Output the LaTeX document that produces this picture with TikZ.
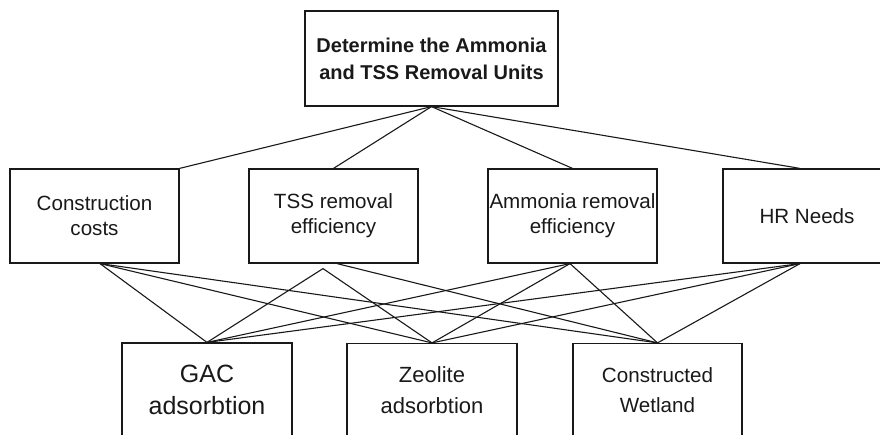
\documentclass[tikz,border=0pt]{standalone}
\usepackage{fontspec}
\setmainfont{Liberation Sans}
\begin{document}
\begin{tikzpicture}[x=1pt,y=-1pt,
  box/.style={draw=black!90,line width=1.2pt,rectangle,inner sep=0pt,align=center,text=black!90},
  midbox/.style={box,minimum width=169pt,minimum height=94pt,font=\fontsize{20.6}{25}\selectfont},
  lowbox/.style={box,minimum width=170pt,minimum height=94pt},
  link/.style={draw=black!90,line width=1.1pt}]
\useasboundingbox (0,0) rectangle (880,435);
\clip (0,0) rectangle (880,435);
% top
\node[box,minimum width=253pt,minimum height=95pt,font=\bfseries\fontsize{20}{27}\selectfont] (top) at (431.5,58.5) {Determine the Ammonia\\and TSS Removal Units};
% middle
\node[midbox] (cc) at (94.5,216) {Construction\\costs};
\node[midbox] (tss) at (333.5,216) {TSS removal\\efficiency};
\node[midbox] (amm) at (572.5,216) {Ammonia removal\\efficiency};
\node[midbox,minimum width=168pt] (hr) at (807,216) {HR Needs};
% bottom
\node[lowbox,font=\fontsize{25}{32}\selectfont] (gac) at (207,390) {GAC\\adsorbtion};
\node[lowbox,font=\fontsize{22}{31}\selectfont] (zeo) at (432,390.5) {Zeolite\\adsorbtion};
\node[lowbox,minimum width=169pt,font=\fontsize{20.6}{30}\selectfont] (cw) at (657.5,390.5) {Constructed\\Wetland};
% connection points
\coordinate (hrN) at ([xshift=-7pt]hr.north);
\coordinate (hrS) at ([xshift=-7pt]hr.south);
\coordinate (ccS) at ([xshift=5.5pt]cc.south);
\coordinate (tssL) at ([xshift=-10.5pt,yshift=-5pt]tss.south);
\coordinate (tssR) at ([xshift=3.5pt]tss.south);
\coordinate (ammS) at ([xshift=-2.5pt]amm.south);
% top links
\draw[link] (top.south) -- (cc.north east);
\draw[link] (top.south) -- (tss.north);
\draw[link] (top.south) -- (amm.north);
\draw[link] (top.south) -- (hrN);
% lower links
\draw[link] (ccS) -- (gac.north);
\draw[link] (ccS) -- (zeo.north);
\draw[link] (ccS) -- (cw.north);
\draw[link] (tssL) -- (gac.north);
\draw[link] (tssL) -- (zeo.north);
\draw[link] (tssR) -- (cw.north);
\draw[link] (ammS) -- (gac.north);
\draw[link] (ammS) -- (zeo.north);
\draw[link] (ammS) -- (cw.north);
\draw[link] (hrS) -- (gac.north);
\draw[link] (hrS) -- (zeo.north);
\draw[link] (hrS) -- (cw.north);
\end{tikzpicture}
\end{document}
